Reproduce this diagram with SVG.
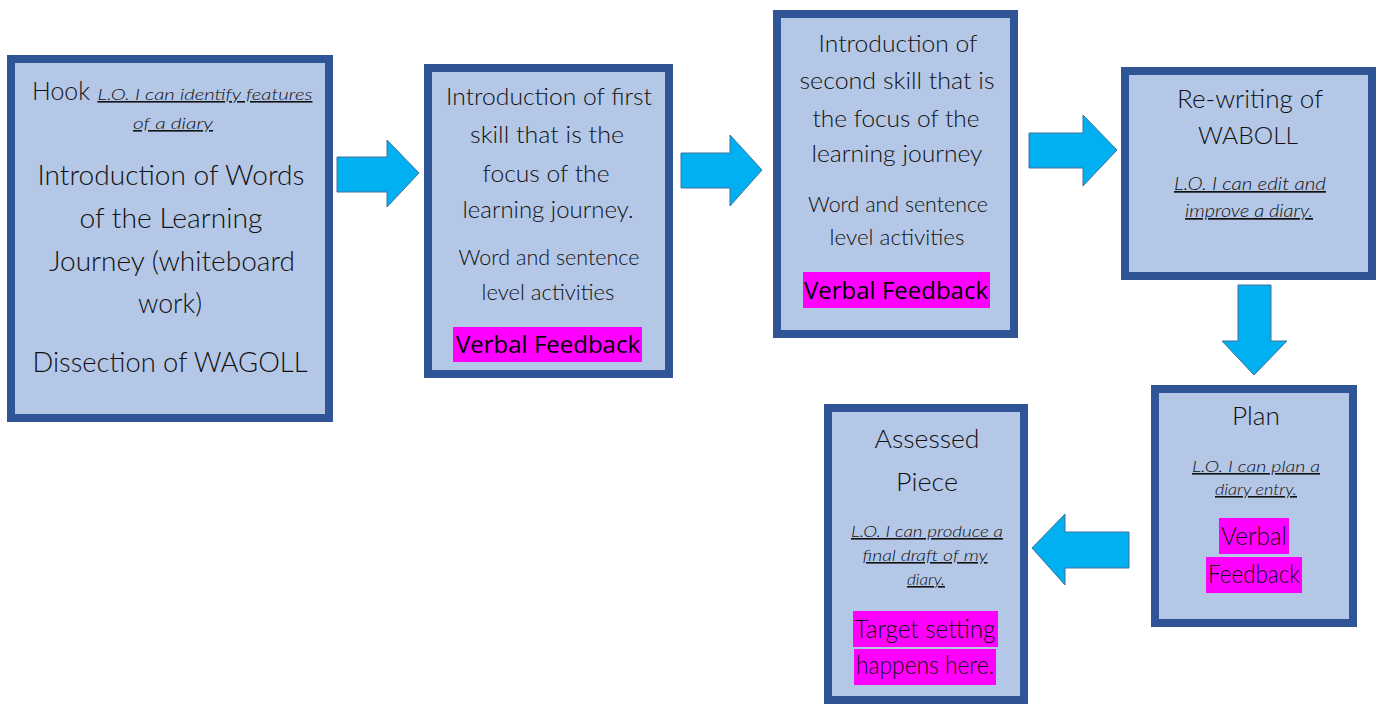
<svg xmlns="http://www.w3.org/2000/svg" width="1378" height="704" viewBox="0 0 1378 704">
<style>
.box{fill:#B4C7E7;stroke:#2F5597;stroke-width:8}
.arr{fill:#00B0F0;stroke:#41719C;stroke-width:1}
.hl{fill:#FF00FF}
text{font-family:"Lato","Noto Sans","Liberation Sans",sans-serif;font-weight:300;fill:#111;text-anchor:middle}
.lo{font-style:italic;text-decoration:underline}
text.sans{font-family:"Open Sans","Noto Sans","Liberation Sans",sans-serif;font-weight:normal;fill:#000}
</style>
<rect width="1378" height="704" fill="#FFFFFF"/>
<g id="connectors">
<polygon class="arr" points="337,157 387,157 387,140 419,173 387,207 387,192 337,192"/>
<polygon class="arr" points="681,153 730,153 730,135 762,170 730,206 730,188 681,188"/>
<polygon class="arr" points="1029,133 1083,133 1083,115 1117,150 1083,186 1083,168 1029,168"/>
<polygon class="arr" points="1238,285 1271,285 1271,341 1287,341 1254,375 1222,341 1238,341"/>
<polygon class="arr" points="1129,532 1065,532 1065,514 1032,548 1065,585 1065,568 1129,568"/>
</g>
<g id="hook">
<rect class="box" x="11" y="59" width="318" height="359"/>
<text x="61" y="100" font-size="26" textLength="58" lengthAdjust="spacingAndGlyphs">Hook</text>
<text x="205" y="100" font-size="16" class="lo" textLength="215" lengthAdjust="spacingAndGlyphs">L.O. I can identify features</text>
<text x="173" y="129" font-size="16" class="lo" textLength="80" lengthAdjust="spacingAndGlyphs">of a diary</text>
<text x="171" y="185" font-size="28" textLength="267" lengthAdjust="spacingAndGlyphs">Introduction of Words</text>
<text x="171" y="228" font-size="28" textLength="183" lengthAdjust="spacingAndGlyphs">of the Learning</text>
<text x="172" y="271" font-size="28" textLength="246" lengthAdjust="spacingAndGlyphs">Journey (whiteboard</text>
<text x="170" y="313" font-size="28" textLength="64" lengthAdjust="spacingAndGlyphs">work)</text>
<text x="170" y="372" font-size="28" textLength="275" lengthAdjust="spacingAndGlyphs">Dissection of WAGOLL</text>
</g>
<g id="first-skill">
<rect class="box" x="428" y="68" width="241" height="306"/>
<text x="549" y="105" font-size="24" textLength="206" lengthAdjust="spacingAndGlyphs">Introduction of first</text>
<text x="547" y="143" font-size="24" textLength="154" lengthAdjust="spacingAndGlyphs">skill that is the</text>
<text x="546" y="182" font-size="24" textLength="127" lengthAdjust="spacingAndGlyphs">focus of the</text>
<text x="548" y="218" font-size="24" textLength="171" lengthAdjust="spacingAndGlyphs">learning journey.</text>
<text x="549" y="265" font-size="21" textLength="181" lengthAdjust="spacingAndGlyphs">Word and sentence</text>
<text x="548" y="300" font-size="21" textLength="133" lengthAdjust="spacingAndGlyphs">level activities</text>
<rect class="hl" x="453" y="327" width="189" height="35"/>
<text class="sans" x="548" y="353" font-size="24" textLength="184" lengthAdjust="spacingAndGlyphs">Verbal Feedback</text>
</g>
<g id="second-skill">
<rect class="box" x="777" y="14" width="237" height="320"/>
<text x="898" y="52" font-size="24" textLength="159" lengthAdjust="spacingAndGlyphs">Introduction of</text>
<text x="897" y="89" font-size="24" textLength="195" lengthAdjust="spacingAndGlyphs">second skill that is</text>
<text x="896" y="127" font-size="24" textLength="167" lengthAdjust="spacingAndGlyphs">the focus of the</text>
<text x="897" y="162" font-size="24" textLength="171" lengthAdjust="spacingAndGlyphs">learning journey</text>
<text x="898" y="212" font-size="21" textLength="180" lengthAdjust="spacingAndGlyphs">Word and sentence</text>
<text x="897" y="245" font-size="21" textLength="135" lengthAdjust="spacingAndGlyphs">level activities</text>
<rect class="hl" x="803" y="272" width="187" height="36"/>
<text class="sans" x="896" y="299" font-size="24" textLength="184" lengthAdjust="spacingAndGlyphs">Verbal Feedback</text>
</g>
<g id="rewriting">
<rect class="box" x="1125" y="71" width="247" height="205"/>
<text x="1250" y="108" font-size="25" textLength="146" lengthAdjust="spacingAndGlyphs">Re-writing of</text>
<text x="1248" y="144" font-size="24" textLength="100" lengthAdjust="spacingAndGlyphs">WABOLL</text>
<text x="1250" y="190" font-size="17" class="lo" textLength="152" lengthAdjust="spacingAndGlyphs">L.O. I can edit and</text>
<text x="1249" y="217" font-size="17" class="lo" textLength="128" lengthAdjust="spacingAndGlyphs">improve a diary.</text>
</g>
<g id="plan">
<rect class="box" x="1155" y="389" width="198" height="234"/>
<text x="1256" y="425" font-size="25" textLength="48" lengthAdjust="spacingAndGlyphs">Plan</text>
<text x="1256" y="472" font-size="16" class="lo" textLength="128" lengthAdjust="spacingAndGlyphs">L.O. I can plan a</text>
<text x="1256" y="495" font-size="16" class="lo" textLength="82" lengthAdjust="spacingAndGlyphs">diary entry.</text>
<rect class="hl" x="1219" y="518" width="70" height="36"/>
<text x="1254" y="545" font-size="25" textLength="66" lengthAdjust="spacingAndGlyphs">Verbal</text>
<rect class="hl" x="1206" y="557" width="96" height="36"/>
<text x="1254" y="583" font-size="25" textLength="92" lengthAdjust="spacingAndGlyphs">Feedback</text>
</g>
<g id="assessed">
<rect class="box" x="828" y="408" width="196" height="292"/>
<text x="927" y="448" font-size="26" textLength="105" lengthAdjust="spacingAndGlyphs">Assessed</text>
<text x="927" y="491" font-size="26" textLength="62" lengthAdjust="spacingAndGlyphs">Piece</text>
<text x="927" y="537" font-size="16" class="lo" textLength="152" lengthAdjust="spacingAndGlyphs">L.O. I can produce a</text>
<text x="925" y="561" font-size="16" class="lo" textLength="125" lengthAdjust="spacingAndGlyphs">final draft of my</text>
<text x="926" y="585" font-size="16" class="lo" textLength="38" lengthAdjust="spacingAndGlyphs">diary.</text>
<rect class="hl" x="853" y="611" width="145" height="36"/>
<text x="925" y="638" font-size="25" textLength="141" lengthAdjust="spacingAndGlyphs">Target setting</text>
<rect class="hl" x="854" y="649" width="142" height="36"/>
<text x="925" y="674" font-size="25" textLength="138" lengthAdjust="spacingAndGlyphs">happens here.</text>
</g>
</svg>
